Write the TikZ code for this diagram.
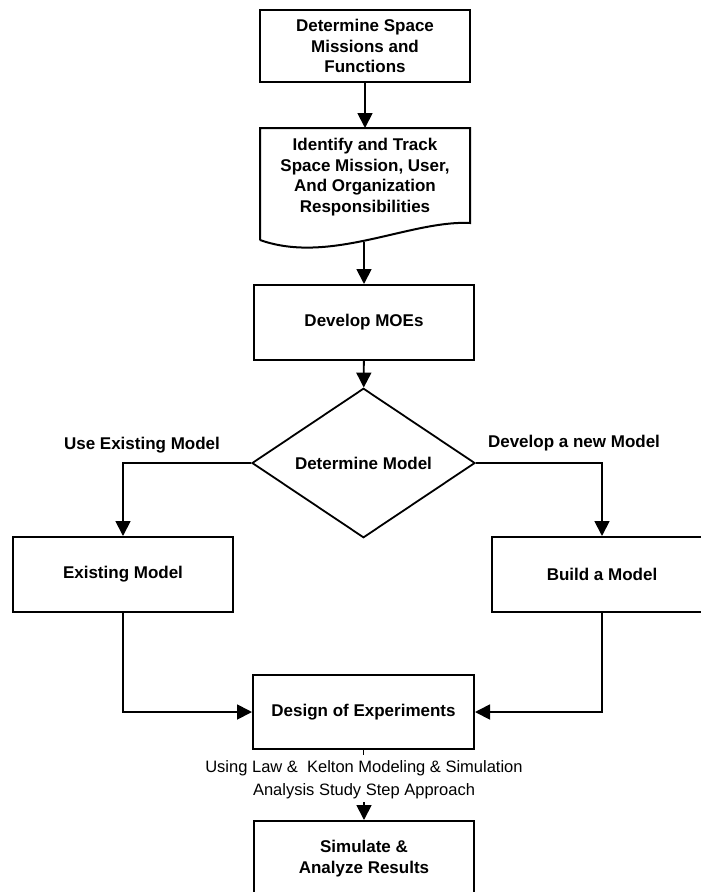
\documentclass[tikz,border=0pt]{standalone}
\usepackage{fontspec}
\setmainfont{Liberation Sans}
\usetikzlibrary{arrows.meta,shapes.geometric}

\tikzset{
  stepbox/.style={draw,line width=2pt,minimum width=220pt,minimum height=75pt,
    align=center,inner sep=2pt,font=\fontsize{17}{20.5}\selectfont\bfseries},
  branch/.style={font=\fontsize{17}{20.5}\selectfont\bfseries,inner sep=0pt},
  note/.style={align=center,inner sep=2pt,font=\fontsize{16.5}{23}\selectfont}
}

\begin{document}
\begin{tikzpicture}[line cap=butt,line join=miter,x=1pt,y=-1pt,
  >={Triangle[length=15pt,width=15pt]},line width=1.8pt]
\useasboundingbox (0,0) rectangle (701,892);
\clip (0,0) rectangle (701,892);
\node[stepbox,minimum width=210pt,minimum height=72pt] (space) at (365,46) {Determine Space\\Missions and\\Functions};
% document shape
\draw[line width=2pt] (260,240) -- (260,128) -- (470,128) -- (470,223)
  .. controls (410,220) and (330,265) .. (260,240);
\node[stepbox,draw=none] (track) at (365,177) {Identify and Track\\Space Mission, User,\\And Organization\\Responsibilities};
\coordinate (doctop) at (365,128);
\coordinate (trackbot) at (364,242);
\node[stepbox] (moe) at (364,322.5) {Develop MOEs};
\node[draw,diamond,line width=1.8pt,minimum width=223pt,minimum height=120pt,
  inner sep=0pt,font=\fontsize{17}{20.5}\selectfont\bfseries] (model) at (363.5,463) {Determine Model};
\node[stepbox] (exist) at (123,574.5) {Existing Model};
\node[stepbox] (build) at (602,574.5) {Build a Model};
\node[stepbox,minimum width=221pt,minimum height=74pt] (doe) at (363.5,712) {Design of Experiments};
\node[note] (law) at (364,780) {Using Law \&\ \ Kelton Modeling \& Simulation\\Analysis Study Step Approach};
\node[stepbox] (sim) at (364,858.5) {Simulate \&\\Analyze Results};
\node[branch] (use) at (142,445) {Use Existing Model};
\node[branch] (new) at (574,443) {Develop a new Model};

\draw[->] (space) -- (doctop);
\draw[->] (trackbot) -- (trackbot |- moe.north);
\draw[->] (moe) -- (model);
\draw[->] (model.west) -| (exist.north);
\draw[->] (model.east) -| (build.north);
\draw[->] (exist.south) |- (doe.west);
\draw[->] (build.south) |- (doe.east);
\draw[line width=1pt] (doe.south) -- ++(0,5);
\draw[->] (law.south) -- (sim.north);
\end{tikzpicture}
\end{document}
